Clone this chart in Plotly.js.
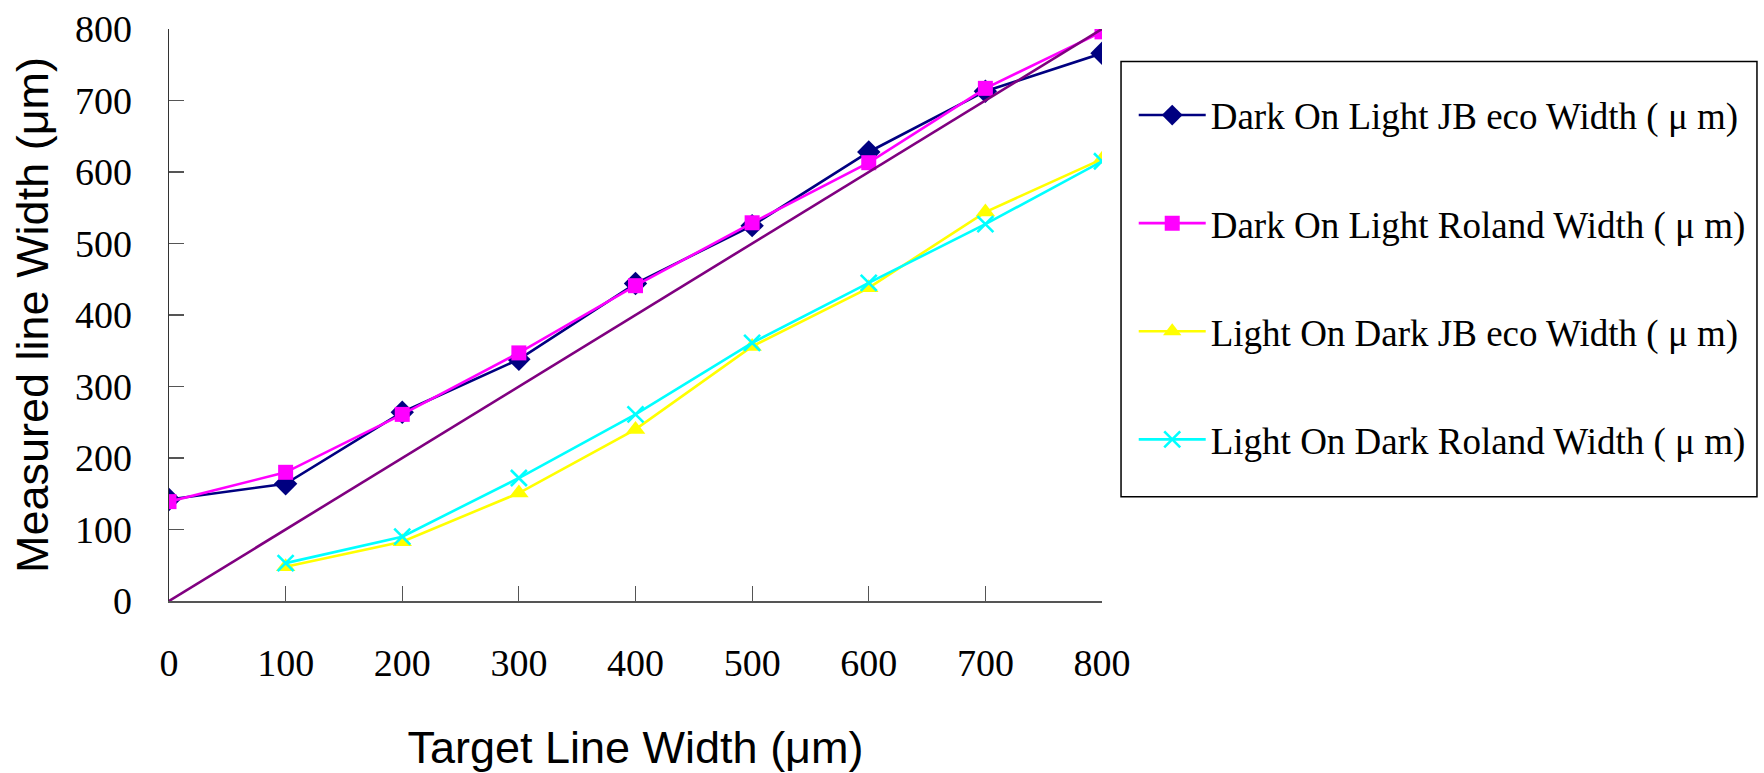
<!DOCTYPE html>
<html>
<head>
<meta charset="utf-8">
<script src="https://cdn.plot.ly/plotly-3.0.1.min.js"></script>
<style>html,body{margin:0;padding:0;background:#fff;}#chart{width:1764px;height:773px;}</style>
</head>
<body>
<div id="chart"></div>
<script>
// Data
const targetAll = [0, 100, 200, 300, 400, 500, 600, 700, 800];
const targetLight = [100, 200, 300, 400, 500, 600, 700, 800];
const darkJB = [142, 164, 264, 338, 444, 525, 628, 713, 766];
const darkRoland = [139, 180, 261, 347, 441, 529, 613, 717, 796];
const lightJB = [48, 83, 151, 240, 356, 438, 544, 618];
const lightRoland = [53, 90, 172, 261, 361, 445, 527, 615];
const refX = [0, 800];
const refY = [0, 800];
const tickVals = [0, 100, 200, 300, 400, 500, 600, 700, 800];

const seriesNames = [
  'Dark On Light JB eco Width ( μ m)',
  'Dark On Light Roland Width ( μ m)',
  'Light On Dark JB eco Width ( μ m)',
  'Light On Dark Roland Width ( μ m)'
];
const xTitle = 'Target Line Width (μm)';
const yTitle = 'Measured line Width (μm)';

const traces = [
  {x: targetAll, y: darkJB, name: seriesNames[0], mode: 'lines+markers', legendgroup: 'g1',
   line: {color: '#000080', width: 2.6}, marker: {symbol: 'diamond', size: 18, color: '#000080'}},
  {x: targetAll, y: darkRoland, name: seriesNames[1], mode: 'lines+markers', legendgroup: 'g2',
   line: {color: '#ff00ff', width: 2.6}, marker: {symbol: 'square', size: 15, color: '#ff00ff'}},
  {x: targetLight, y: lightJB, name: seriesNames[2], mode: 'lines+markers', legendgroup: 'g3',
   line: {color: '#ffff00', width: 2.6}, marker: {symbol: 'triangle-up', size: 17, color: '#ffff00'}},
  {x: targetLight, y: lightRoland, name: seriesNames[3], mode: 'lines+markers', legendgroup: 'g4',
   line: {color: '#00ffff', width: 2.6}, marker: {symbol: 'x-thin', size: 16, color: '#00ffff', line: {color: '#00ffff', width: 2.6}}},
  {x: refX, y: refY, name: 'y=x', mode: 'lines', showlegend: false,
   line: {color: '#800080', width: 2.6}}
];

const layout = {
  width: 1764, height: 773,
  paper_bgcolor: '#ffffff', plot_bgcolor: '#ffffff',
  margin: {l: 169, r: 662, t: 29, b: 172, pad: 0},
  showlegend: true,
  xaxis: {
    range: [0, 800], tickvals: tickVals, ticktext: tickVals.map(String),
    showgrid: false, zeroline: false, showline: true, linecolor: '#555555', linewidth: 1.5,
    ticks: 'inside', ticklen: 15, tickwidth: 1.2, tickcolor: '#555555',
    tickfont: {family: 'Liberation Serif, Times New Roman, serif', size: 38, color: '#000'},
    ticklabelstandoff: 28,
    automargin: false,
    title: {text: xTitle, font: {family: 'Liberation Sans, Arial, sans-serif', size: 45, color: '#000'}, standoff: 50}
  },
  yaxis: {
    range: [0, 800], tickvals: tickVals, ticktext: tickVals.map(String),
    showgrid: false, zeroline: false, showline: true, linecolor: '#333333', linewidth: 1.5,
    ticks: 'inside', ticklen: 15, tickwidth: 1.2, tickcolor: '#555555',
    tickfont: {family: 'Liberation Serif, Times New Roman, serif', size: 38, color: '#000'},
    ticklabelstandoff: 28,
    automargin: false,
    title: {text: yTitle, font: {family: 'Liberation Sans, Arial, sans-serif', size: 45, color: '#000'}, standoff: 12}
  },
  legend: {
    x: 1.034, y: 0.903, xanchor: 'left', yanchor: 'top',
    bgcolor: 'rgba(0,0,0,0)', borderwidth: 0,
    font: {family: 'Liberation Serif, Times New Roman, serif', size: 37, color: '#000'},
    itemwidth: 67, tracegroupgap: 57, traceorder: 'grouped'
  },
  shapes: [
    {type: 'rect', xref: 'paper', yref: 'paper', x0: 1.0204, x1: 1.702, y0: 0.1824, y1: 0.9432,
     line: {color: '#000000', width: 1.5}, fillcolor: 'rgba(0,0,0,0)'}
  ]
};

Plotly.newPlot('chart', traces, layout, {displayModeBar: false, staticPlot: true});
</script>
</body>
</html>
